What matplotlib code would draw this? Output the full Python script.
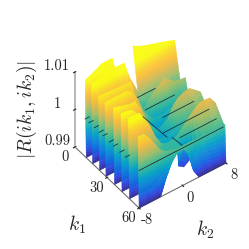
import numpy as np
import matplotlib
matplotlib.use('Agg')
from matplotlib import pyplot as plt
from matplotlib.colors import LinearSegmentedColormap, Normalize
from mpl_toolkits.mplot3d import proj3d
from mpl_toolkits.mplot3d.art3d import Poly3DCollection

plt.rcParams['mathtext.fontset'] = 'cm'
plt.rcParams['font.family'] = ['cmr10', 'DejaVu Sans']
plt.rcParams['axes.unicode_minus'] = False
plt.rcParams['axes.formatter.use_mathtext'] = True

nan = np.nan
k2_cols = [-8, -7, -6, -5, -4, -3, -2, -1, 0.3, 1, 2, 3, 4, 5, 6, 7, 8]

# each wall: k1 of its crest, crest height, height and k1 of its foot
wall_k1 = [9.5, 12, 15.5, 22, 28, 36, 43, 50, 59]
wall_top = [
    [1.0104, 1.011, 1.0117, 1.0125, 1.0125, 1.0125, 1.006, 1.0, .998, nan, nan, nan, nan, nan, nan, nan, nan],
    [nan, nan, nan, nan, nan, nan, nan, nan, 1.014, 1.0134, 1.0127, 1.0122, 1.0117, 1.0113, 1.0108, 1.0103, 1.0097],
    [1.0111, 1.0115, 1.0118, 1.012, 1.012, 1.0121, 1.0121, 1.0075, 1.0033, 1.0, .998, nan, nan, nan, nan, nan, nan],
    [1.0095, 1.0094, 1.0093, 1.0092, 1.0091, 1.009, 1.0089, 1.0037, 1.0, 1.0013, 1.0028, 1.0041, 1.0052, 1.0042, 1.003, 1.0027, 1.0025],
    [1.0095, 1.0095, 1.0095, 1.0095, 1.0095, 1.0085, 1.006, 1.002, .9995, .9985, .9985, .9985, .999, .999, .999, .999, .999],
    [1.0102, 1.0098, 1.0094, 1.009, 1.0089, 1.0063, 1.003, 1.0, .9983, .9988, 1.0, 1.0027, 1.0041, 1.0047, 1.0049, 1.0037, 1.0025],
    [1.0105, 1.0105, 1.01, 1.0085, 1.006, 1.003, 1.0, .9985, .998, .9985, .9985, .9985, .999, .999, .999, .999, .999],
    [1.0113, 1.0112, 1.0111, 1.009, 1.006, 1.0025, 1.0, .9993, .9995, 1.0, 1.0014, 1.003, 1.0044, 1.0055, 1.0056, 1.0054, 1.0033],
    [1.0087, 1.0087, 1.0071, 1.0047, 1.0024, 1.0011, 1.0007, 1.0001, 1.0002, 1.0002, 1.0002, 1.0002, 1.0002, 1.0002, 1.0001, 1.0001, 1.0001],
]
wall_foot = [
    [.99, .99, .99, .99, .99, .99, .99, .99, .99, nan, nan, nan, nan, nan, nan, nan, nan],
    [nan, nan, nan, nan, nan, nan, nan, nan, .995, .995, .995, .995, .995, .995, .995, .995, .995],
    [.99, .99, .99, .99, .99, .99, .99, .99, .99, .99, .99, nan, nan, nan, nan, nan, nan],
    [.99, .99, .99, .99, .99, .99, .99, .992, .995, .995, .995, .995, .995, .995, .995, .995, .995],
    [.99, .99, .99, .99, .99, .99, .99, .992, .995, .995, .995, .995, .995, .995, .995, .995, .995],
    [.99, .99, .99, .99, .99, .99, .99, .993, .995, .996, .997, .997, .997, .997, .997, .997, .997],
    [.99, .99, .99, .99, .99, .99, .992, .995, .995, .995, .995, .995, .995, .995, .995, .995, .995],
    [.99, .99, .99, .99, .99, .995, .998, .999, .999, .992, .991, .992, .999, .9995, .9995, .9995, .9995],
    [.99, .99, .99, .99, .99, .9942, .9975, .9995, .9995, .9977, .9924, .99, .99, .99, .99, .99, .99],
]
wall_foot_k1 = [
    [10.5, 10.5, 10.5, 10.5, 10.5, 10.5, 10.5, 10.5, 10.5, 10.5, 10.5, 10.5, 10.5, 10.5, 10.5, 10.5, 10.5],
    [20, 20, 20, 20, 20, 20, 20, 20, 20, 20, 20, 20, 20, 20, 20, 20, 20],
    [16.5, 16.5, 16.5, 16.5, 16.5, 16.5, 17, 18, 20, 20, 20, 20, 20, 20, 20, 20, 20],
    [23, 23, 23, 23, 23, 23, 24, 25, 27, 27, 27, 27, 27, 27, 27, 27, 27],
    [29, 29, 29, 29, 29, 29, 30, 31, 34, 34, 34, 34, 34, 34, 34, 34, 34],
    [37, 37, 37, 37, 37, 37, 38, 40, 42, 47, 47, 47, 47, 47, 47, 49, 49],
    [44, 44, 44, 44, 44, 44, 45, 46, 48, 48, 48, 48, 48, 48, 48, 48, 48],
    [51, 51, 51, 51, 51, 58, 58, 58, 58, 51, 51, 51, 58.5, 58.5, 58.5, 58.5, 58.5],
    [60, 60, 60, 60, 60, 60, 60, 60, 60, 60, 60, 60, 60, 60, 60, 60, 60],
]

# black level lines at |R| = 1: k1 start, k2 start, k1 end, k2 end
line_k1a = [60, 52.5, 44, 34, 23.5, 13, 27, 50, 9.4, 13, 18, 22.5, 26, 32, 36, 42, 47]
line_k2a = [-8, 1, -0.5, 1.5, 0.3, 0.95, -0.8, 0.1, -8, -8, -8, -8, -8, -8, -8, -8, -8]
line_k1b = [60, 52.5, 44, 34, 23.5, 13, 48, 58, 9.4, 13, 18, 22.5, 26, 32, 36, 42, 47]
line_k2b = [7.5, 7.7, 8, 7.2, 5.7, 4.2, -0.5, 0.3, -7.2, -7.2, -7.2, -7.2, -7.2, -7.2, -7.2, -7.2, -7.2]

k1_ticks = [0, 30, 60]
k2_ticks = [-8, 0, 8]
z_ticks = [0.99, 1, 1.01]
z_ticklabels = ['0.99', '1', '1.01']

parula = ['#352a87', '#3145e0', '#0f6fe0', '#1488d8', '#06a4ca', '#2eb7a4', '#66be85', '#a6bf6b',
          '#d9ba56', '#fcbf3c', '#f9d92f', '#f9fb15']
cmap = LinearSegmentedColormap.from_list('parula', parula)
norm = Normalize(0.99, 1.01)

fig = plt.figure(figsize=(2.49, 2.49), dpi=100)
ax = fig.add_axes([0.05, 0.0, 0.95, 0.95], projection='3d', computed_zorder=False)
ax.set_proj_type('ortho')
ax.view_init(elev=44.6, azim=-36.4)
ax.set_box_aspect((1, 1, 0.975))
ax.set_xlim(0, 60)
ax.set_ylim(-8, 8)
ax.set_zlim(0.99, 1.01)
ax.patch.set_alpha(0)

n_along = 3
n_down = 30
polys = []
vals = []
for top, foot, foot_k1, k1 in zip(wall_top, wall_foot, wall_foot_k1, wall_k1):
    for j in range(len(k2_cols) - 1):
        if np.isnan(top[j]) or np.isnan(top[j + 1]):
            continue
        # split every cell finely so the colour runs along the height
        for ia in range(n_along):
            for ib in range(n_down):
                quad = []
                h = []
                for aa, bb in [(ia, ib), (ia + 1, ib), (ia + 1, ib + 1), (ia, ib + 1)]:
                    aa = aa / n_along
                    bb = bb / n_down
                    ztop = top[j] * (1 - aa) + top[j + 1] * aa
                    zfoot = foot[j] * (1 - aa) + foot[j + 1] * aa
                    kfoot = foot_k1[j] * (1 - aa) + foot_k1[j + 1] * aa
                    kk2 = k2_cols[j] * (1 - aa) + k2_cols[j + 1] * aa
                    kk1 = k1 * (1 - bb) + kfoot * bb
                    zz = ztop * (1 - bb) + zfoot * bb
                    quad.append((kk1, kk2, zz))
                    h.append(zz)
                polys.append(quad)
                vals.append(np.mean(h))

colors = cmap(norm(np.array(vals)))
surf = Poly3DCollection(polys, facecolors=colors, edgecolors=colors, linewidths=0.3, zorder=1)
ax.add_collection3d(surf)

for k1a, k2a, k1b, k2b in zip(line_k1a, line_k2a, line_k1b, line_k2b):
    ax.plot([k1a, k1b], [k2a, k2b], [1, 1], color='#14283c', lw=0.55, zorder=2)

ax.set_xticks(k1_ticks)
ax.set_yticks(k2_ticks)
ax.set_zticks(z_ticks)
ax.set_xticklabels(['0', '30', '60'], va='baseline')
ax.set_yticklabels(['-8', '0', '8'], va='baseline')
ax.set_zticklabels(z_ticklabels, va='baseline')
ax.tick_params(labelsize=10.5, colors='#262626')
ax.tick_params(axis='x', pad=0)
ax.tick_params(axis='y', pad=0)
ax.tick_params(axis='z', pad=0)
ax.zaxis.set_ticks_position('lower')
ax.grid(False)
for axis in (ax.xaxis, ax.yaxis, ax.zaxis):
    axis.set_pane_color((1, 1, 1, 0))
    axis.pane.set_edgecolor((1, 1, 1, 0))
ax.xaxis.line.set_color('#707070')
ax.yaxis.line.set_color('#707070')
ax.zaxis.line.set_color('#b8b8b8')
ax.zaxis.line.set_linewidth(1.4)


def to_pixels(k1, k2, z):
    x, y, _ = proj3d.proj_transform(k1, k2, z, ax.get_proj())
    return ax.transData.transform((x, y))


# put the box corners on the spots they have in the reference
target_a = np.array([75.0, 249 - 147.0])
target_b = np.array([226.0, 249 - 163.0])
for _ in range(3):
    fig.canvas.draw()
    pa = to_pixels(0, -8, 0.99)
    pb = to_pixels(60, 8, 0.99)
    scale = np.linalg.norm(target_b - target_a) / np.linalg.norm(pb - pa)
    pos = ax.get_position()
    w = pos.width * scale
    h = pos.height * scale
    cx = pos.x0 + pos.width / 2 + ((target_a + target_b) / 2 - (pa + pb) / 2)[0] / 249
    cy = pos.y0 + pos.height / 2 + ((target_a + target_b) / 2 - (pa + pb) / 2)[1] / 249
    ax.set_position([cx - w / 2, cy - h / 2, w, h])

fig.text(27 / 249, 1 - 110 / 249, r'$|R(ik_1,ik_2)|$', fontsize=14, rotation=90, ha='center', va='center', color='#262626')
fig.text(77 / 249, 1 - 225 / 249, r'$k_1$', fontsize=14, ha='center', va='center', color='#262626')
fig.text(205 / 249, 1 - 230 / 249, r'$k_2$', fontsize=14, ha='center', va='center', color='#262626')

fig.savefig('out.png', dpi=100)
